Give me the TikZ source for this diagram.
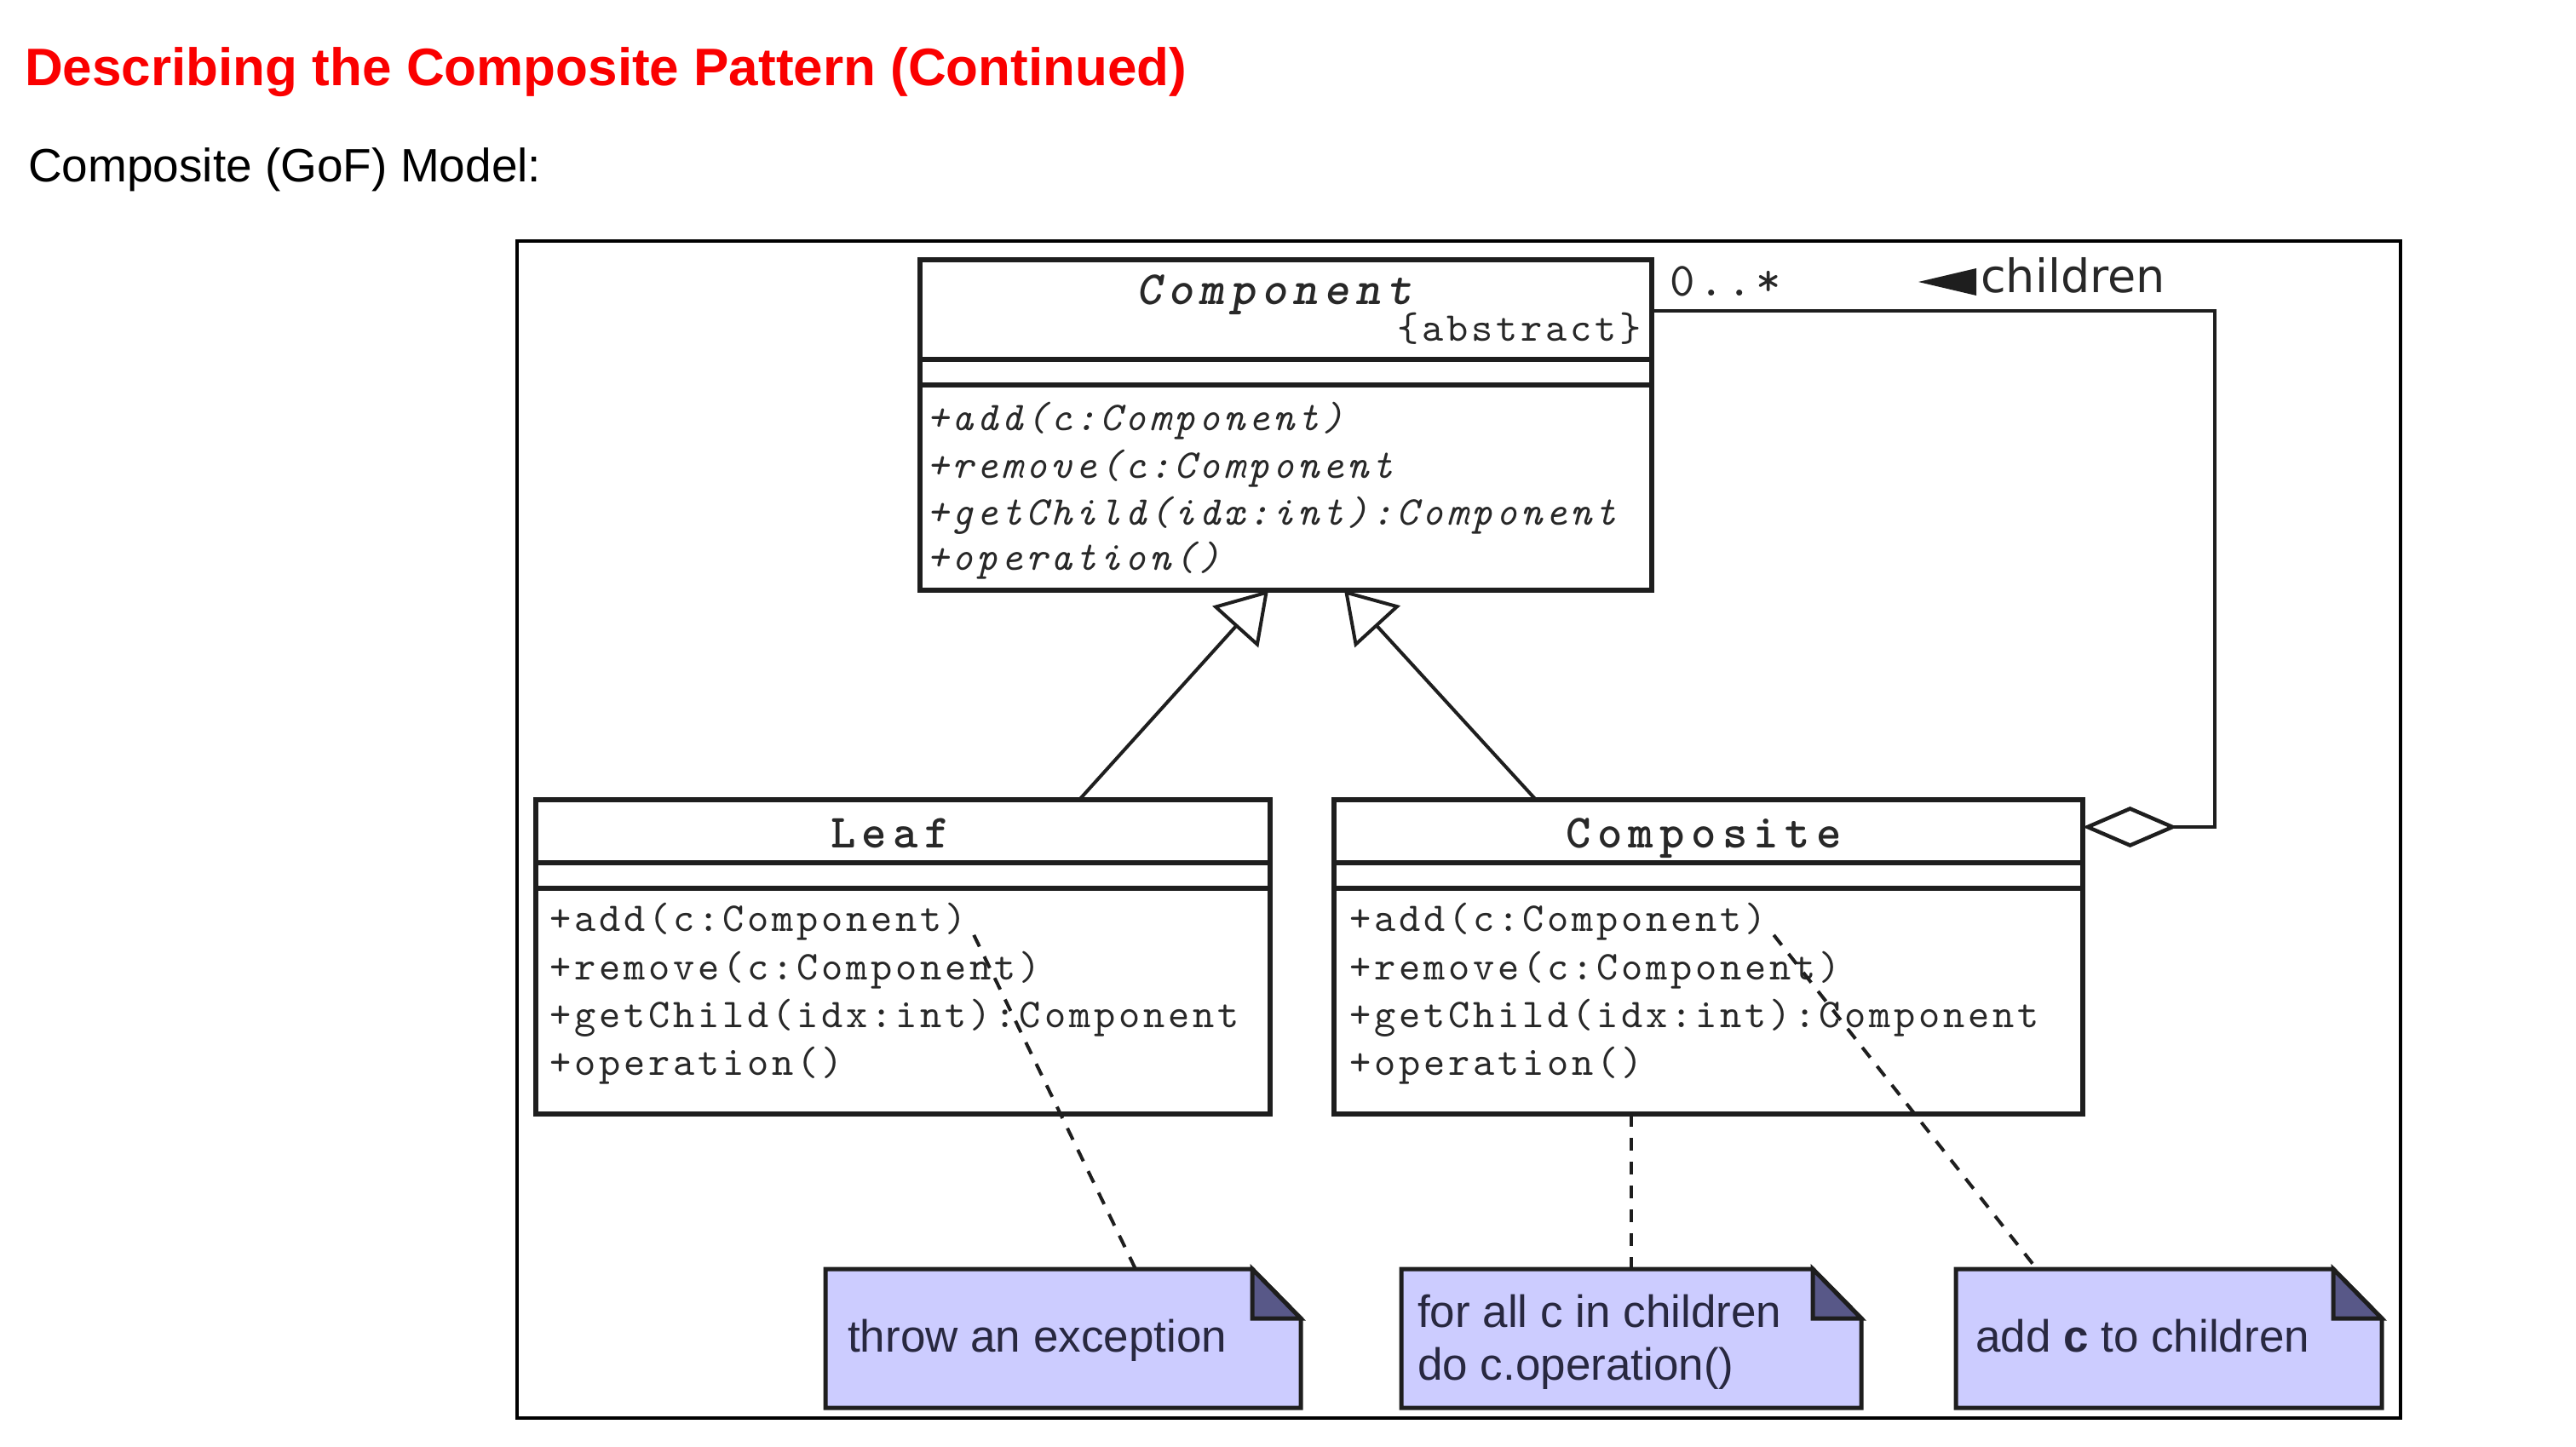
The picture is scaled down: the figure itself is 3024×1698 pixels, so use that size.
\documentclass[tikz,border=0pt]{standalone}
\usepackage{fontspec}
\setmainfont{Liberation Sans}
\newfontfamily\umlfont{lmmono10-regular.otf}[ItalicFont=lmmono10-italic.otf, LetterSpace=8]
\newfontfamily\umlhead{lmmonolt10-bold.otf}[ItalicFont=lmmonolt10-boldoblique.otf, LetterSpace=13]
\newfontfamily\notefont{Liberation Sans}
\newfontfamily\rolefont{DejaVu Sans}
\usetikzlibrary{arrows.meta,calc}

\definecolor{titlered}{RGB}{250,0,0}
\definecolor{notefill}{RGB}{204,204,255}
\definecolor{notefold}{RGB}{88,88,136}
\definecolor{notetextcol}{RGB}{40,40,64}
\definecolor{umlline}{RGB}{30,30,30}
\definecolor{umltext}{RGB}{40,40,40}

\tikzset{
  classbox/.style={draw=umlline, line width=6pt, fill=white, rectangle,
    inner sep=0pt, outer sep=0pt, anchor=north west},
  umlsep/.style={draw=umlline, line width=6pt},
  optext/.style={font=\umlfont\fontsize{48}{54}\selectfont, text=umltext,
    inner sep=0pt, anchor=base west},
  hdtext/.style={font=\umlhead\fontsize{56}{64}\selectfont, text=umltext,
    inner sep=0pt, anchor=base},
  notebox/.style={rectangle, inner sep=0pt, outer sep=0pt, anchor=north west},
  notebody/.style={fill=notefill, draw=umlline, line width=5pt, line join=miter},
  notefoldst/.style={fill=notefold, draw=umlline, line width=5pt, line join=miter},
  notelabel/.style={font=\notefont\fontsize{53}{62}\selectfont, text=notetextcol,
    inner sep=0pt, anchor=base west},
  gen/.style={draw=umlline, line width=4pt,
    -{Triangle[open, length=58pt, width=72pt]}},
  dep/.style={draw=umlline, line width=4pt, dash pattern=on 15pt off 13pt},
  assoc/.style={draw=umlline, line width=4.5pt,
    -{Diamond[open, length=111pt, width=48pt]}},
}

\begin{document}
\begin{tikzpicture}[x=1pt, y=-1pt]
  \useasboundingbox (0,0) rectangle (3024,1698);
  \fill[white] (0,0) rectangle (3024,1698);

  % heading
  \node[anchor=base west, inner sep=0pt, text=titlered,
        font=\fontsize{62}{70}\selectfont\bfseries] (title) at (29,100)
        {Describing the Composite Pattern (Continued)};
  \node[anchor=base west, inner sep=0pt, font=\fontsize{55}{62}\selectfont]
        (subtitle) at (33,213) {Composite (GoF) Model:};

  % frame around the model
  \node[draw=black, line width=3.5pt, rectangle, inner sep=0pt, outer sep=0pt,
        anchor=north west, minimum width=2211pt, minimum height=1382pt]
        (frame) at (607,283) {};

  % classes
  \node[classbox, minimum width=859pt, minimum height=388pt] (component) at (1080,305) {};
  \node[classbox, minimum width=862pt, minimum height=369pt] (leaf) at (629,939) {};
  \node[classbox, minimum width=879pt, minimum height=369pt] (composite) at (1566,939) {};

  % compartment separators
  \draw[umlsep] ($(component.north west)+(0,117)$) -- ($(component.north east)+(0,117)$);
  \draw[umlsep] ($(component.north west)+(0,147)$) -- ($(component.north east)+(0,147)$);
  \foreach \c in {leaf,composite} {
    \draw[umlsep] ($(\c.north west)+(0,74)$) -- ($(\c.north east)+(0,74)$);
    \draw[umlsep] ($(\c.north west)+(0,104)$) -- ($(\c.north east)+(0,104)$);
  }

  % Component
  \node[hdtext, font=\umlhead\itshape\fontsize{56}{64}\selectfont] (compname) at (1496,357) {Component};
  \node[optext, anchor=base east] (compabs) at (1927,400) {\{abstract\}};
  \node[optext] (cop1) at (1088,505) {\itshape +add(c:Component)};
  \node[optext] (cop2) at (1088,561) {\itshape +remove(c:Component};
  \node[optext] (cop3) at (1088,616) {\itshape +getChild(idx:int):Component};
  \node[optext] (cop4) at (1088,669) {\itshape +operation()};

  % Leaf
  \node[hdtext] (leafname) at (1045,995) {Leaf};
  \node[optext] (lop1) at (645,1093) {+add(c:Component)};
  \node[optext] (lop2) at (645,1150) {+remove(c:Component)};
  \node[optext] (lop3) at (645,1206) {+getChild(idx:int):Component};
  \node[optext] (lop4) at (645,1262) {+operation()};

  % Composite
  \node[hdtext] (compositename) at (2000,995) {Composite};
  \node[optext] (kop1) at (1584,1093) {+add(c:Component)};
  \node[optext] (kop2) at (1584,1150) {+remove(c:Component)};
  \node[optext] (kop3) at (1584,1206) {+getChild(idx:int):Component};
  \node[optext] (kop4) at (1584,1262) {+operation()};

  % notes
  \node[notebox, minimum width=558pt, minimum height=163pt] (note1) at (969,1490) {};
  \node[notebox, minimum width=540pt, minimum height=163pt] (note2) at (1645,1490) {};
  \node[notebox, minimum width=500pt, minimum height=163pt] (note3) at (2296,1490) {};
  \foreach \n in {note1,note2,note3} {
    \draw[notebody] (\n.north west) -- ($(\n.north east)+(-57,0)$)
      -- ($(\n.north east)+(0,58)$) -- (\n.south east) -- (\n.south west) -- cycle;
    \draw[notefoldst] ($(\n.north east)+(-57,0)$) -- ($(\n.north east)+(-57,58)$)
      -- ($(\n.north east)+(0,58)$) -- cycle;
  }
  \node[notelabel] (note1text) at (995,1587) {throw an exception};
  \node[notelabel] (note2text) at (1664,1558) {for all c in children};
  \node[notelabel] (note2text2) at (1664,1620) {do c.operation()};
  \node[notelabel] (note3text) at (2319,1587) {add \textbf{c} to children};

  % generalisation
  \draw[gen] ($(leaf.north west)+(638,0)$) -- ($(component.south west)+(409,0)$);
  \draw[gen] ($(composite.north west)+(237,0)$) -- ($(component.south west)+(498,0)$);

  % aggregation of children
  \draw[assoc] ($(component.north east)+(0,60)$) -| ($(composite.north east)+(155,32)$)
    -- ($(composite.north east)+(0,32)$);
  \node[anchor=base west, inner sep=0pt, text=umltext,
        font=\umlfont\fontsize{56}{60}\selectfont] (mult) at (1960,347) {0..*};
  \node[anchor=base west, inner sep=0pt, text=umltext,
        font=\rolefont\fontsize{54}{60}\selectfont] (role) at (2325,343) {children};
  \fill[umlline] (2252,331) -- (2320,315) -- (2320,347) -- cycle;

  % note attachments
  \draw[dep] ($(lop1.south east)+(8,-6)$) -- ($(note1.north west)+(364,0)$);
  \draw[dep] ($(kop1.south east)+(8,-6)$) -- ($(note3.north west)+(95,0)$);
  \draw[dep] (composite.south -| note2.north) -- (note2.north);
\end{tikzpicture}
\end{document}
